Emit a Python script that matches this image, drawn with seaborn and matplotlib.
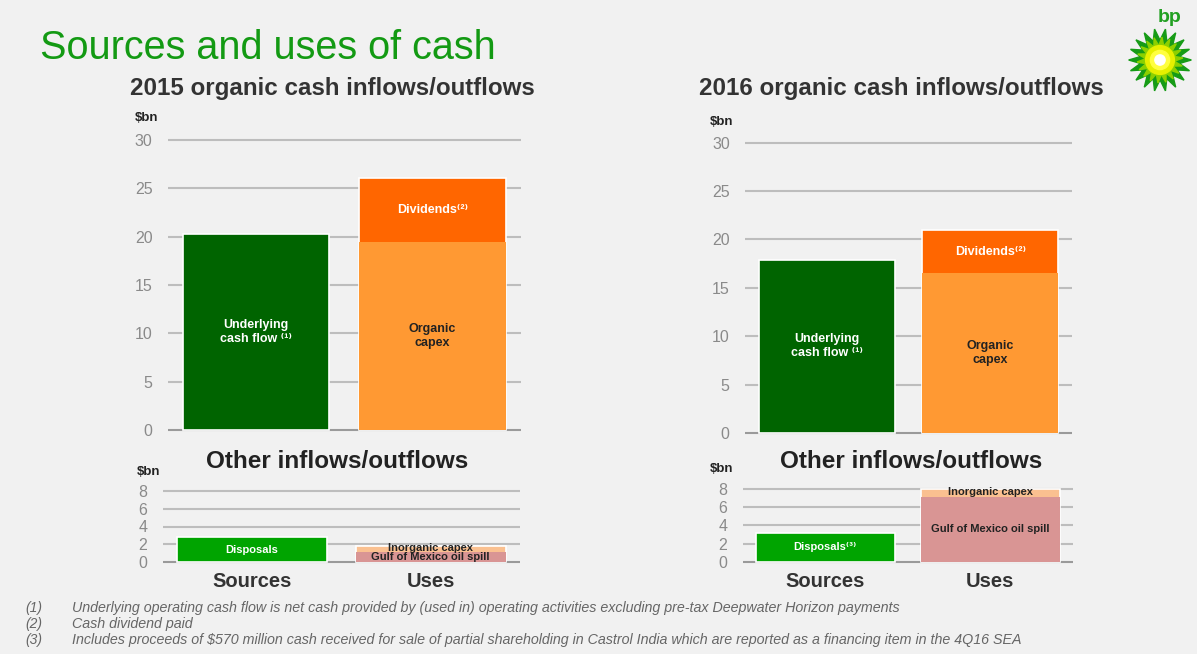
import numpy as np
import pandas as pd
import seaborn as sns
import matplotlib.pyplot as plt
from matplotlib.patches import Polygon, Circle

# values, $bn
cats = ["Sources", "Uses"]

ucf_2015 = 20.3
capex_2015 = 19.5
div_2015 = 6.6
ucf_2016 = 17.9
capex_2016 = 16.5
div_2016 = 4.5

disposals_2015 = 2.8
gom_2015 = 1.1
inorg_2015 = 0.7
disposals_2016 = 3.2
gom_2016 = 7.1
inorg_2016 = 0.9

top_ticks = [0, 5, 10, 15, 20, 25, 30]
bot_ticks = [0, 2, 4, 6, 8]

footnotes = [
    ("(1)", "Underlying operating cash flow is net cash provided by (used in) operating activities excluding pre-tax Deepwater Horizon payments"),
    ("(2)", "Cash dividend paid"),
    ("(3)", "Includes proceeds of $570 million cash received for sale of partial shareholding in Castrol India which are reported as a financing item in the 4Q16 SEA"),
]

BG = "#F1F1F1"
DKGREEN = "#006400"
LTGREEN = "#00A400"
DIVCOL = "#FF6600"
CAPEXCOL = "#FF9933"
GOMCOL = "#D99594"
INORGCOL = "#FAC090"
GRID = "#BDBDBD"
TICKCOL = "#8A8A8A"

sns.set_style("white")
plt.rcParams['font.family'] = ['Liberation Sans', 'DejaVu Sans']

W, H = 1197, 654
fig = plt.figure(figsize=(W / 100, H / 100), dpi=100, facecolor=BG)


def make_ax(x0, x1, ypix0, ypixmax, vmax):
    # axes rect from pixel positions of value 0 and vmax
    ppu = (ypix0 - ypixmax) / vmax
    lo, hi = -0.025 * vmax, 1.025 * vmax
    bot = ypix0 + (-lo) * ppu
    top = ypixmax - (hi - vmax) * ppu
    ax = fig.add_axes([x0 / W, 1 - bot / H, (x1 - x0) / W, (bot - top) / H])
    ax.set_facecolor(BG)
    ax.set_ylim(lo, hi)
    ax.set_xlim(-0.5, 1.5)
    for s in ax.spines.values():
        s.set_visible(False)
    return ax


def style_ax(ax, ticks, xlabels):
    ax.set_yticks(ticks)
    ax.set_yticklabels([str(t) for t in ticks])
    ax.tick_params(axis="y", length=0, pad=11, labelsize=11.5, labelcolor=TICKCOL)
    for t in ticks:
        ax.axhline(t, color=GRID if t else "#9A9A9A", lw=1.5, zorder=0)
    ax.set_xlabel("")
    ax.set_ylabel("")
    ax.set_xlim(-0.5, 1.5)
    if xlabels:
        ax.tick_params(axis="x", length=0, pad=6)
        for lab in ax.get_xticklabels():
            lab.set_fontsize(14.5)
            lab.set_fontweight("bold")
            lab.set_color("#333333")
    else:
        ax.set_xticklabels([])
        ax.tick_params(axis="x", length=0)


def stacked(ax, src, low, high, colors, width):
    # draw totals first, then lower segment on top
    tot = pd.DataFrame({"cat": cats, "val": [src, low + high]})
    sns.barplot(data=tot, x="cat", y="val", hue="cat", order=cats, hue_order=cats,
                palette=[colors[0], colors[2]], saturation=1, width=width,
                edgecolor="white", linewidth=1.2, legend=False, ax=ax, zorder=2)
    lower = pd.DataFrame({"cat": ["Uses"], "val": [low]})
    sns.barplot(data=lower, x="cat", y="val", order=cats, color=colors[1],
                saturation=1, width=width, linewidth=0, ax=ax, zorder=3)


def organic(ax, ucf, capex, div):
    stacked(ax, ucf, capex, div, [DKGREEN, CAPEXCOL, DIVCOL], 0.83)
    style_ax(ax, top_ticks, False)
    kw = dict(ha="center", va="center", fontsize=9, fontweight="bold", zorder=5)
    ax.text(0, ucf / 2, "Underlying\ncash flow \u207d\u00b9\u207e", color="white", **kw)
    ax.text(1, capex / 2, "Organic\ncapex", color="#222222", **kw)
    ax.text(1, capex + div / 2, "Dividends\u207d\u00b2\u207e", color="white", **kw)


def other(ax, disp, gom, inorg, disp_label):
    stacked(ax, disp, gom, inorg, [LTGREEN, GOMCOL, INORGCOL], 0.84)
    style_ax(ax, bot_ticks, True)
    kw = dict(ha="center", va="center", fontsize=8, fontweight="bold", zorder=5)
    ax.text(0, disp / 2, disp_label, color="white", **kw)
    ax.text(1, gom / 2, "Gulf of Mexico oil spill", color="#222222", **kw)
    ax.text(1, gom + inorg / 2 + 0.15, "Inorganic capex", color="#222222", **kw)


ax1 = make_ax(167.7, 521, 430, 140, 30)
organic(ax1, ucf_2015, capex_2015, div_2015)
ax2 = make_ax(745, 1072, 433, 142.7, 30)
organic(ax2, ucf_2016, capex_2016, div_2016)
ax3 = make_ax(162.7, 520, 562, 491, 8)
other(ax3, disposals_2015, gom_2015, inorg_2015, "Disposals")
ax4 = make_ax(742.7, 1073, 561.7, 489, 8)
other(ax4, disposals_2016, gom_2016, inorg_2016, "Disposals\u207d\u00b3\u207e")


def ftext(x, y, s, **kw):
    fig.text(x / W, 1 - y / H, s, **kw)


ftext(40, 48, "Sources and uses of cash", fontsize=28.5, color="#139A13", va="center")
ftext(332, 88, "2015 organic cash inflows/outflows", fontsize=17.4, fontweight="bold",
      color="#333333", ha="center", va="center")
ftext(901, 88, "2016 organic cash inflows/outflows", fontsize=17.4, fontweight="bold",
      color="#333333", ha="center", va="center")
ftext(337, 462, "Other inflows/outflows", fontsize=17.5, fontweight="bold",
      color="#222222", ha="center", va="center")
ftext(911, 462, "Other inflows/outflows", fontsize=17.5, fontweight="bold",
      color="#222222", ha="center", va="center")
for x, y in [(135, 118), (710, 122), (137, 472), (710, 469)]:
    ftext(x, y, "$bn", fontsize=9.5, fontweight="bold", color="#222222", va="center")

for i, (num, txt) in enumerate(footnotes):
    y = 608 + 16 * i
    ftext(25, y, num, fontsize=10, style="italic", color="#666666", va="center")
    ftext(72, y, txt, fontsize=10.3, style="italic", color="#666666", va="center")

# bp helios logo
lax = fig.add_axes([1128 / W, 1 - 92 / H, 64 / W, 64 / H])
lax.set_xlim(-1, 1)
lax.set_ylim(-1, 1)
lax.axis("off")
n = 18
ang = np.linspace(0, 2 * np.pi, 2 * n, endpoint=False)
r = np.where(np.arange(2 * n) % 2 == 0, 0.98, 0.62)
lax.add_patch(Polygon(np.c_[r * np.cos(ang), r * np.sin(ang)], color="#169B16"))
ang2 = ang + np.pi / (2 * n)
r2 = np.where(np.arange(2 * n) % 2 == 0, 0.72, 0.45)
lax.add_patch(Polygon(np.c_[r2 * np.cos(ang2), r2 * np.sin(ang2)], color="#8CD000"))
lax.add_patch(Circle((0, 0), 0.45, color="#E6F000"))
lax.add_patch(Circle((0, 0), 0.3, color="#FFFF40"))
lax.add_patch(Circle((0, 0), 0.16, color="white"))
ftext(1170, 18, "bp", fontsize=14, fontweight="bold", color="#22A022", ha="center", va="center")

fig.savefig("out.png", dpi=100, facecolor=BG)
